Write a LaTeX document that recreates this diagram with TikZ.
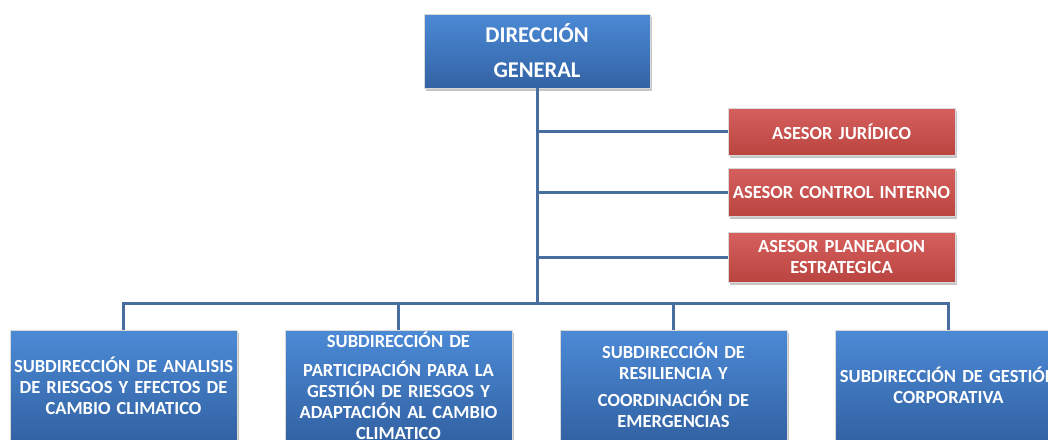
\documentclass[tikz,border=0pt]{standalone}
\usepackage{fontspec}
\setmainfont{Carlito}
\usetikzlibrary{shadows}
\definecolor{BoxBlueTop}{RGB}{76,138,214}
\definecolor{BoxBlueBot}{RGB}{50,98,163}
\definecolor{BoxRedTop}{RGB}{214,96,93}
\definecolor{BoxRedBot}{RGB}{186,68,64}
\definecolor{LinkBlue}{RGB}{72,110,160}
\begin{document}
\begin{tikzpicture}[x=1pt,y=-1pt,
    unitbox/.style={draw=white!70!gray,line width=.6pt,text=white,font=\bfseries,
      align=center,inner sep=0pt,
      drop shadow={shadow xshift=2pt,shadow yshift=-3pt,opacity=.45}},
    bluebox/.style={unitbox,top color=BoxBlueTop,bottom color=BoxBlueBot},
    redbox/.style={unitbox,top color=BoxRedTop,bottom color=BoxRedBot,
      text width=227pt,font=\bfseries\fontsize{18.5}{21}\selectfont},
    subbox/.style={bluebox,minimum height=111pt,text width=227pt,
      font=\bfseries\fontsize{18.5}{21}\selectfont},
    link/.style={draw=LinkBlue,line width=3pt}]
        \useasboundingbox (0, 0) rectangle (1048, 439);
        \node[bluebox,minimum height=74pt,text width=226pt,
          font=\bfseries\fontsize{22.5}{35}\selectfont] (dg) at (537, 51) {DIRECCIÓN\\GENERAL};
        \node[redbox,minimum height=47pt] (aj) at (841.5, 131.5) {ASESOR JURÍDICO};
        \node[redbox,minimum height=48pt] (aci) at (841.5, 192) {ASESOR CONTROL INTERNO};
        \node[redbox,minimum height=50pt] (ape) at (841.5, 257) {ASESOR PLANEACION\\ESTRATEGICA};
        \node[subbox] (sar) at (123.5, 385.5) {SUBDIRECCIÓN DE ANALISIS\\DE RIESGOS Y EFECTOS DE\\CAMBIO CLIMATICO};
        \node[subbox] (spg) at (398.5, 385.5) {SUBDIRECCIÓN DE\\[8pt]PARTICIPACIÓN PARA LA\\GESTIÓN DE RIESGOS Y\\ADAPTACIÓN AL CAMBIO\\CLIMATICO};
        \node[subbox] (src) at (673.5, 385.5) {SUBDIRECCIÓN DE\\RESILIENCIA Y\\[6pt]COORDINACIÓN DE\\EMERGENCIAS};
        \node[subbox] (sgc) at (948.5, 385.5) {SUBDIRECCIÓN DE GESTIÓN\\CORPORATIVA};
        \coordinate (bus) at (dg.south |- 0, 303);
        \path[link] (dg.south) -- (bus);
        \path[link] (dg.south |- aj.west) -- (aj.west);
        \path[link] (dg.south |- aci.west) -- (aci.west);
        \path[link] (dg.south |- ape.west) -- (ape.west);
        \path[link] (bus) -| (sar.north);
        \path[link] (bus) -| (spg.north);
        \path[link] (bus) -| (src.north);
        \path[link] (bus) -| (sgc.north);
\end{tikzpicture}
\end{document}
